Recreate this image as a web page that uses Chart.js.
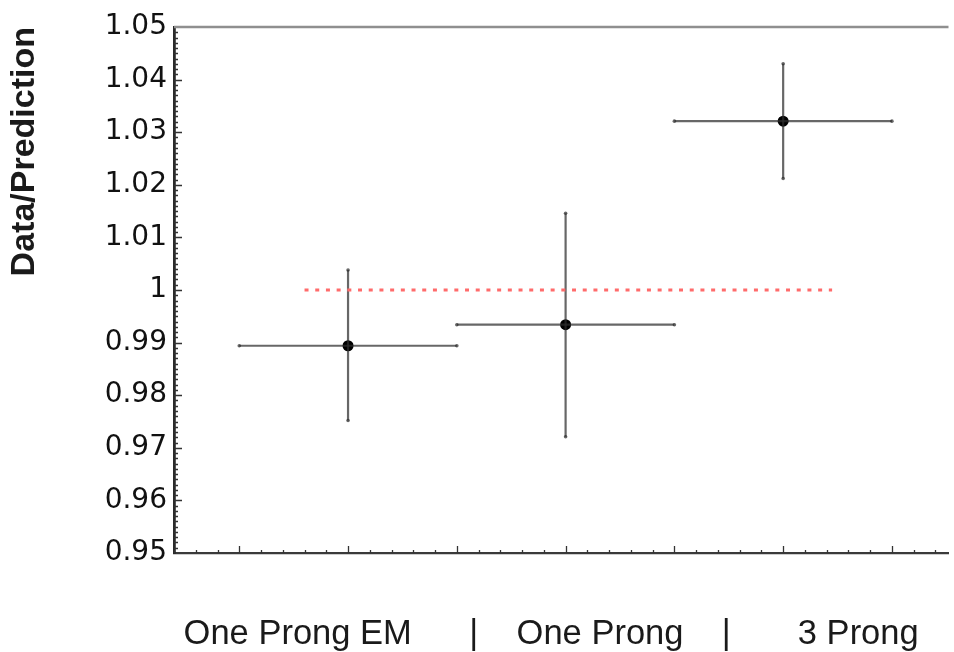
<!DOCTYPE html>
<html lang="en">

<head>
    <meta charset="UTF-8">
    <title>Data/Prediction by decay mode</title>
    <style>
        body {
            background-color: white;
            margin: 0;
            padding: 0;
        }

        .container {
            width: 954px;
            height: 652px;
            overflow: hidden;
        }
    </style>
</head>

<body>
    <div class="container">
        <canvas id="ratioChart" width="954" height="652"></canvas>
    </div>

    <script src="https://cdn.jsdelivr.net/npm/chart.js"></script>

    <script>
        // Decay modes, bin centres and half-widths on the x axis
        const categories = ['One Prong EM', 'One Prong', '3 Prong'];
        const binCenter = [1, 3, 5];
        const binHalfWidth = [1, 1, 1];

        // Data/prediction ratio and its error band
        const ratio = [0.9894, 0.9934, 1.0321];
        const ratioLow = [0.9752, 0.9721, 1.0212];
        const ratioHigh = [1.0038, 1.0146, 1.0430];

        // Reference line at unity
        const refLineX = [0.6, 5.45];
        const refLineY = 1;

        // Y tick labels, bottom to top
        const yTickLabels = ['0.95', '0.96', '0.97', '0.98', '0.99', '1', '1.01', '1.02', '1.03', '1.04', '1.05'];

        // x axis caption: modes separated by bars
        const captionGaps = [6, 4, 4, 7];
        const captionParts = [' ' + categories[0], '|', categories[1], '|', categories[2]];
        let xCaption = captionParts[0];
        for (let i = 1; i < captionParts.length; i++) {
            xCaption += ' '.repeat(captionGaps[i - 1]) + captionParts[i];
        }

        const barColor = 'rgba(45, 45, 45, 0.72)';
        const datasets = [];

        // Error bars as two-point line segments
        binCenter.forEach((x, i) => {
            datasets.push({
                data: [{ x: x - binHalfWidth[i], y: ratio[i] }, { x: x + binHalfWidth[i], y: ratio[i] }],
                borderColor: barColor,
                borderWidth: 2.2,
                pointRadius: 1.8,
                pointBackgroundColor: barColor,
                pointBorderWidth: 0
            });
            datasets.push({
                data: [{ x: x, y: ratioLow[i] }, { x: x, y: ratioHigh[i] }],
                borderColor: barColor,
                borderWidth: 2.2,
                pointRadius: 1.8,
                pointBackgroundColor: barColor,
                pointBorderWidth: 0
            });
        });

        // Dotted red line at 1
        datasets.unshift({
            data: refLineX.map(x => ({ x: x, y: refLineY })),
            borderColor: '#ff6b6b',
            borderWidth: 3,
            borderDash: [4, 6.7],
            pointRadius: 0
        });

        // Central values
        datasets.push({
            type: 'scatter',
            data: binCenter.map((x, i) => ({ x: x, y: ratio[i] })),
            pointRadius: 5.5,
            pointBackgroundColor: '#000',
            pointBorderWidth: 0
        });

        // Inward tick marks and the top frame line
        const frameTicks = {
            id: 'frameTicks',
            beforeDatasetsDraw(chart) {
                const { ctx, chartArea, scales } = chart;
                const xs = scales.x, ys = scales.y;
                ctx.save();
                ctx.strokeStyle = '#333';
                ctx.lineWidth = 1.3;
                ctx.beginPath();
                for (let k = -3; k <= 32; k++) {
                    const px = Math.round(xs.getPixelForValue(k * 0.2)) + 0.5;
                    const len = k % 5 === 0 ? 7 : 3;
                    ctx.moveTo(px, chartArea.bottom);
                    ctx.lineTo(px, chartArea.bottom - len);
                }
                for (let k = 951; k <= 1049; k++) {
                    const py = Math.round(ys.getPixelForValue(k / 1000)) + 0.5;
                    const len = k % 10 === 0 ? 8 : 4;
                    ctx.moveTo(chartArea.left, py);
                    ctx.lineTo(chartArea.left + len, py);
                }
                ctx.stroke();

                ctx.strokeStyle = '#8f8f8f';
                ctx.lineWidth = 2.5;
                ctx.beginPath();
                ctx.moveTo(chartArea.left, chartArea.top);
                ctx.lineTo(chartArea.right, chartArea.top);
                ctx.stroke();
                ctx.restore();
            }
        };

        const ctx = document.getElementById('ratioChart').getContext('2d');

        new Chart(ctx, {
            type: 'line',
            data: { datasets: datasets },
            plugins: [frameTicks],
            options: {
                responsive: false,
                animation: false,
                layout: { padding: { top: 27, right: 0, bottom: 0, left: 0 } },
                plugins: {
                    legend: { display: false },
                    tooltip: { enabled: false }
                },
                scales: {
                    x: {
                        type: 'linear',
                        min: -0.6,
                        max: 6.52,
                        grid: { display: false, drawTicks: false },
                        border: { display: true, color: '#3a3a3a', width: 2.2 },
                        ticks: { display: false },
                        title: {
                            display: true,
                            text: xCaption,
                            align: 'start',
                            color: '#1a1a1a',
                            font: { family: '"Liberation Sans", Arial, sans-serif', size: 34.5, lineHeight: 1 },
                            padding: { top: 0, bottom: 0 }
                        },
                        afterFit: s => { s.height = 99; }
                    },
                    y: {
                        min: 0.95,
                        max: 1.05,
                        grid: { display: false, drawTicks: false },
                        border: { display: true, color: '#2a2a2a', width: 2.8 },
                        ticks: {
                            stepSize: 0.01,
                            padding: 7,
                            color: '#111',
                            font: { family: '"DejaVu Sans", sans-serif', size: 28 },
                            callback: (value, index) => yTickLabels[index]
                        },
                        title: {
                            display: true,
                            text: 'Data/Prediction',
                            align: 'end',
                            color: '#1a1a1a',
                            font: { family: '"Liberation Sans", Arial, sans-serif', size: 34, weight: 'bold', lineHeight: 1 },
                            padding: { top: 8, bottom: 0 }
                        },
                        afterFit: s => { s.width = 174; }
                    }
                }
            }
        });
    </script>
</body>

</html>
